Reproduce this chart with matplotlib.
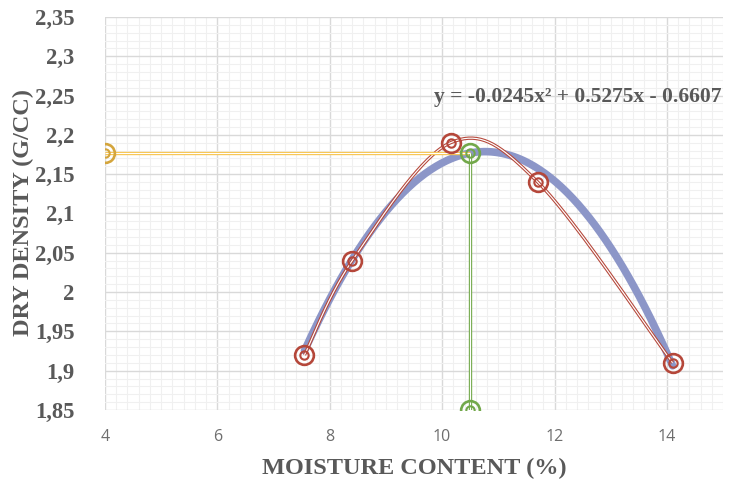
import numpy as np
import matplotlib
matplotlib.use("Agg")
import matplotlib.pyplot as plt
from matplotlib.ticker import MultipleLocator, FuncFormatter

# measured points
moisture = [7.55, 8.4, 10.15, 11.7, 14.1]
density = [1.92, 2.04, 2.19, 2.14, 1.91]

# polynomial trendline coefficients (a x^2 + b x + c)
coef = [-0.0245, 0.5275, -0.6607]

# optimum moisture / max dry density read-off
omc = 10.5
mdd = 2.177
x_axis_start = 4
y_axis_start = 1.85

GRAY = "#595959"
RED = "#B5473A"
BLUE = "#8C96C8"
YELLOW = "#F7C24A"
YELLOW_M = "#D4A53C"
GREEN = "#72A84A"


def smooth(xs, ys, n=40, t=0.5):
    # catmull-rom style smoothing like Excel's "smoothed line"
    xs = np.asarray(xs, float)
    ys = np.asarray(ys, float)
    px = np.concatenate([[xs[0]], xs, [xs[-1]]])
    py = np.concatenate([[ys[0]], ys, [ys[-1]]])
    ox, oy = [], []
    for i in range(1, len(px) - 2):
        p0, p1, p2, p3 = (np.array([px[j], py[j]]) for j in (i - 1, i, i + 1, i + 2))
        c1 = p1 + (p2 - p0) * t / 3
        c2 = p2 - (p3 - p1) * t / 3
        s = np.linspace(0, 1, n)[:, None]
        b = (1 - s) ** 3 * p1 + 3 * (1 - s) ** 2 * s * c1 + 3 * (1 - s) * s ** 2 * c2 + s ** 3 * p2
        ox.extend(b[:, 0])
        oy.extend(b[:, 1])
    return np.array(ox), np.array(oy)


def double_line(ax, x, y, color, lw=2.6, z=3):
    ax.plot(x, y, color=color, lw=lw, solid_capstyle="butt", zorder=z)
    ax.plot(x, y, color="white", lw=lw * 0.35, solid_capstyle="butt", zorder=z + 0.1)


def double_marker(ax, x, y, color, z=6):
    ax.plot(x, y, "o", ms=13.5, mfc="none", mec=color, mew=1.9, zorder=z, ls="none")
    ax.plot(x, y, "o", ms=6, mfc="none", mec=color, mew=1.5, zorder=z + 0.1, ls="none")


fig = plt.figure(figsize=(7.29, 4.84), dpi=100)
ax = fig.add_axes([0.144, 0.153, 0.848, 0.812])

ax.set_xlim(4, 15)
ax.set_ylim(1.85, 2.35)
ax.xaxis.set_major_locator(MultipleLocator(2))
ax.xaxis.set_minor_locator(MultipleLocator(0.2))
ax.yaxis.set_major_locator(MultipleLocator(0.05))
ax.yaxis.set_minor_locator(MultipleLocator(0.01))
ax.grid(which="major", color="#D9D9D9", lw=1.0, zorder=0)
ax.grid(which="minor", color="#F0F0F0", lw=0.8, zorder=0)
ax.set_axisbelow(True)
for s in ax.spines.values():
    s.set_visible(False)
ax.tick_params(which="both", length=0)
ax.tick_params(axis="y", pad=22, labelsize=16.3, labelcolor=GRAY)
ax.tick_params(axis="x", pad=14, labelsize=11.5, labelcolor="#6E6E6E")
for lab in ax.get_yticklabels():
    lab.set_family("Liberation Serif")
    lab.set_fontweight("bold")
for lab in ax.get_xticklabels():
    lab.set_family("Open Sans")
ax.yaxis.set_major_formatter(FuncFormatter(lambda v, p: f"{v:.2f}".rstrip("0").rstrip(".").replace(".", ",")))

# trendline
tx = np.linspace(moisture[0], moisture[-1], 200)
ty = np.polyval(coef, tx)
ax.plot(tx, ty, color=BLUE, lw=5.5, solid_capstyle="round", zorder=2)

# smoothed data line
sx, sy = smooth(moisture, density)
double_line(ax, sx, sy, RED, lw=2.4, z=3)

# read-off lines
double_line(ax, [x_axis_start, omc], [mdd, mdd], YELLOW, lw=2.4, z=4)
double_line(ax, [omc, omc], [mdd, y_axis_start], GREEN, lw=2.4, z=4)

double_marker(ax, moisture, density, RED)
double_marker(ax, [x_axis_start], [mdd], YELLOW_M, z=7)
double_marker(ax, [omc, omc], [mdd, y_axis_start], GREEN, z=7)

ax.text(12.42, 2.248, "y = -0.0245x² + 0.5275x - 0.6607", ha="center", va="center",
        fontsize=15.5, fontweight="bold", color=GRAY, family="Liberation Serif")

ax.set_xlabel("MOISTURE CONTENT (%)", fontsize=17.5, fontweight="bold", color=GRAY,
              family="Liberation Serif")
ax.xaxis.set_label_coords((414 - 105) / 618, -(458 - 410) / 393)
ax.set_ylabel("DRY DENSITY (G/CC)", fontsize=17.5, fontweight="bold", color=GRAY,
              family="Liberation Serif")
ax.yaxis.set_label_coords(-(105 - 34) / 618, (410 - 213) / 393)

fig.savefig("out.png", dpi=100)
